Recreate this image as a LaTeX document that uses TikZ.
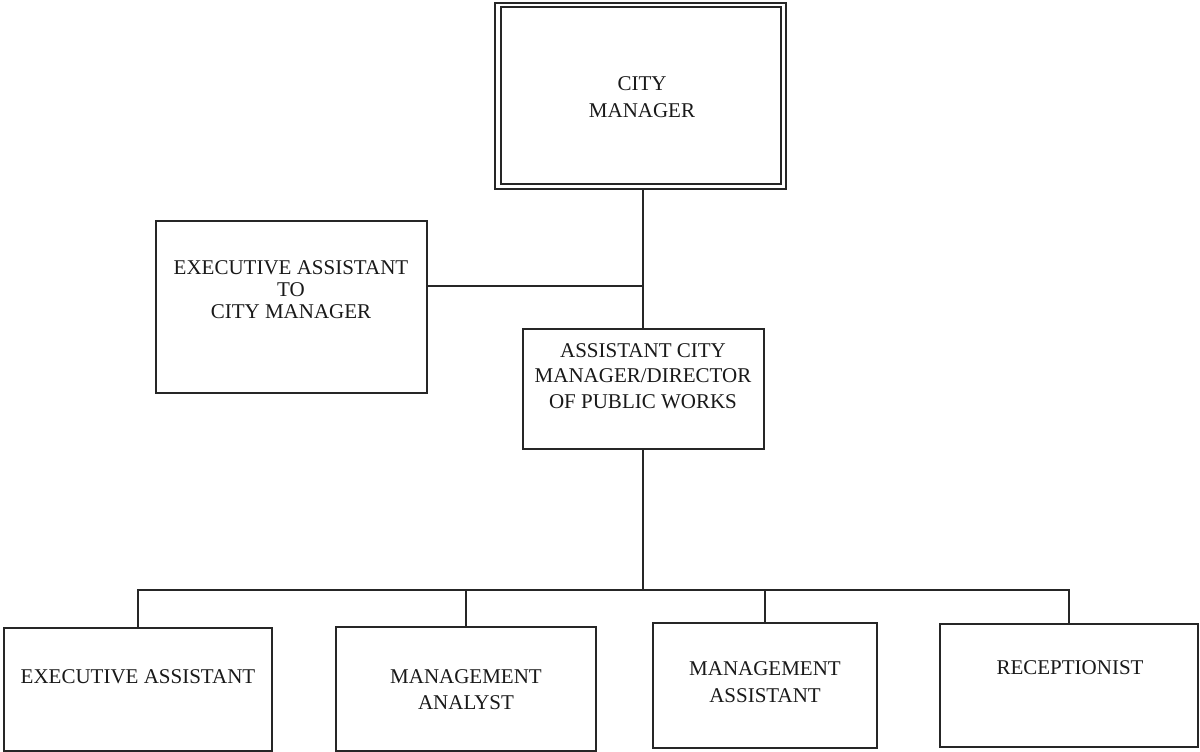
\documentclass[tikz,border=0pt]{standalone}
\usepackage{fontspec}
\setmainfont{Liberation Serif}
\begin{document}
\begin{tikzpicture}[x=1pt,y=-1pt,
  box/.style={draw=black!85,line width=1.3pt,rectangle,inner sep=0pt},
  lbl/.style={align=center,inner sep=0pt,text=black!90},
  wire/.style={draw=black!85,line width=1.3pt}]
\useasboundingbox[fill=white] (0,0) rectangle (1200,752);

% City Manager (double frame)
\node[box,line width=1.8pt,minimum width=291pt,minimum height=186pt] (cm) at (640.5,96) {};
\node[box,line width=1.6pt,minimum width=280pt,minimum height=177pt] (cmin) at (641,95.5) {};
\node[lbl,font=\fontsize{21}{27}\selectfont] (cmt) at (642,97) {CITY\\MANAGER};

% Executive assistant to the city manager
\node[box,minimum width=271pt,minimum height=172pt] (ea) at (291.5,307) {};
\node[lbl,font=\fontsize{21}{22}\selectfont] (eat) at (291,290) {EXECUTIVE ASSISTANT\\TO\\CITY MANAGER};

% Assistant city manager
\node[box,minimum width=241pt,minimum height=120pt] (acm) at (643.5,389) {};
\node[lbl,font=\fontsize{21}{25.5}\selectfont] (acmt) at (643,376) {ASSISTANT CITY\\MANAGER/DIRECTOR\\OF PUBLIC WORKS};

% Staff row
\node[box,minimum width=268pt,minimum height=123pt] (b1) at (138,689.5) {};
\node[lbl,font=\fontsize{21}{26}\selectfont] (b1t) at (138,677) {EXECUTIVE ASSISTANT};
\node[box,minimum width=260pt,minimum height=124pt] (b2) at (466,689) {};
\node[lbl,font=\fontsize{21}{26}\selectfont] (b2t) at (466,690) {MANAGEMENT\\ANALYST};
\node[box,minimum width=224pt,minimum height=125pt] (b3) at (765,685.5) {};
\node[lbl,font=\fontsize{21}{27}\selectfont] (b3t) at (765,682) {MANAGEMENT\\ASSISTANT};
\node[box,minimum width=258pt,minimum height=123pt] (b4) at (1069,685.5) {};
\node[lbl,font=\fontsize{21}{26}\selectfont] (b4t) at (1070,668) {RECEPTIONIST};

% Connectors
\coordinate (j1) at (643,286);
\coordinate (bus) at (643,590);
\draw[wire] (cm.south -| j1) -- (acm.north -| j1);
\draw[wire] (j1) -- (j1 -| ea.east);
\draw[wire] (acm.south -| bus) -- (bus);
\draw[wire] (b1.north) |- (bus);
\draw[wire] (b2.north) -- (b2.north |- bus);
\draw[wire] (b3.north) -- (b3.north |- bus);
\draw[wire] (b4.north) |- (bus);
\end{tikzpicture}
\end{document}
